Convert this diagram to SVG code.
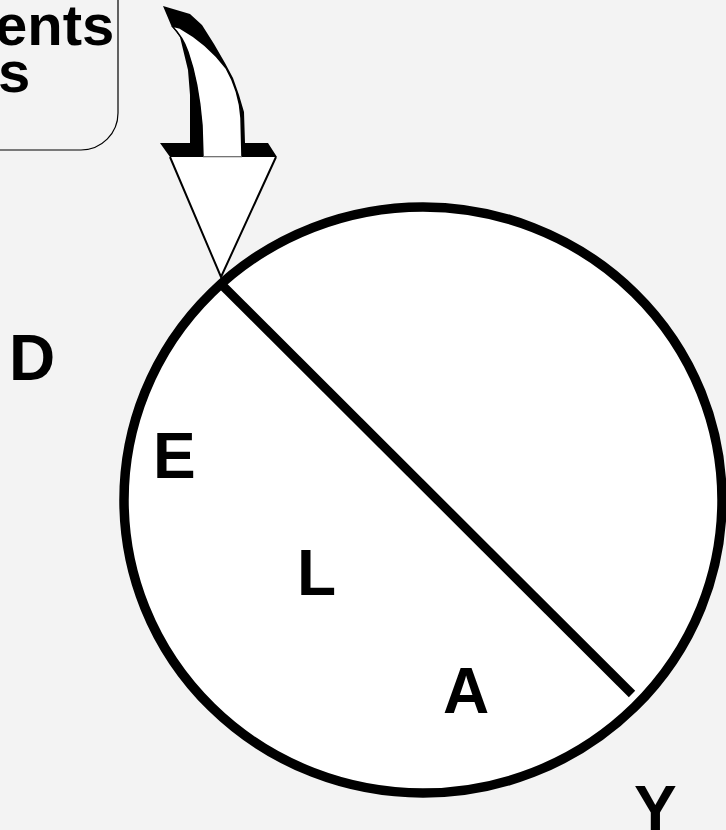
<svg xmlns="http://www.w3.org/2000/svg" width="726" height="830" viewBox="0 0 726 830">
<style>
.lbl{font-family:"Liberation Sans",Arial,sans-serif;font-weight:bold;fill:#000}
.big{font-size:64px}
.top{font-size:58px}
</style>
<rect x="0" y="0" width="726" height="830" fill="#f3f3f3"/>
<g id="box">
<rect x="-60" y="-60" width="178" height="210" rx="37" ry="37" fill="#f3f3f3" stroke="#000" stroke-width="1.2"/>
<text class="lbl top" x="-5" y="45">ents</text>
<text class="lbl top" x="-2" y="92">s</text>
</g>
<g id="circle">
<ellipse cx="423" cy="500" rx="299" ry="293" fill="#fff" stroke="#000" stroke-width="9.5"/>
<line x1="222" y1="285" x2="632" y2="694" stroke="#000" stroke-width="9"/>
</g>
<g id="labels">
<text class="lbl big" x="9" y="380">D</text>
<text class="lbl big" x="153" y="478">E</text>
<text class="lbl big" x="297" y="595">L</text>
<text class="lbl big" x="443" y="713">A</text>
<text class="lbl big" x="634" y="831">Y</text>
</g>
<g id="connectors">
<polygon points="163,6 190,14 202,25 214,44 225,63 233,78 239,95 244,112 245,143 268,143 277,157 170,157 160,143 190,143 190,95 188,70 180,37 171,25" fill="#000"/>
<path d="M172,26 L180,28 C198,38 214,52 226,68 C234,82 240,100 241,118 L242,157 L203,157 L202,125 C200,100 196,75 188,52 C184,40 178,32 172,26 Z" fill="#fff" stroke="#000" stroke-width="1.5" stroke-linejoin="round"/>
<polygon points="170,157 276,157 221,277" fill="#fff"/>
<polyline points="170,157 221,277 276,157" fill="none" stroke="#000" stroke-width="2"/>
<line x1="203" y1="157" x2="242" y2="157" stroke="#aaa" stroke-width="1"/>
</g>
</svg>
